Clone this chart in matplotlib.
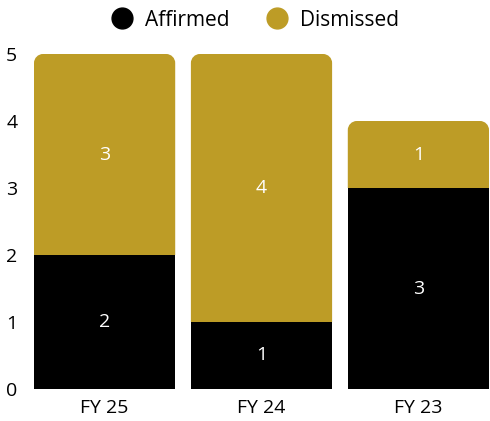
import matplotlib
matplotlib.use("Agg")
import matplotlib.pyplot as plt
from matplotlib.path import Path
from matplotlib.patches import PathPatch
from matplotlib.lines import Line2D

categories = ["FY 25", "FY 24", "FY 23"]
affirmed = [2, 1, 3]
dismissed = [3, 4, 1]
yticks = [0, 1, 2, 3, 4, 5]

BLACK = "#000000"
GOLD = "#BD9C26"
plt.rcParams['font.family'] = ['Open Sans', 'DejaVu Sans']

fig = plt.figure(figsize=(4.9, 4.21), dpi=100)
ax = fig.add_axes([34/490, (421-389)/421, (489-34)/490, (389-54)/421])
ax.set_xlim(-0.45, 2.45)
ax.set_ylim(0, 5)

x = list(range(len(categories)))
width = 0.9

bars_a = ax.bar(x, affirmed, width=width, color=BLACK, zorder=2)
bars_d = ax.bar(x, dismissed, width=width, bottom=affirmed, color=GOLD, zorder=2)

# replace top segments with rounded-top shapes
fig.canvas.draw()
r_px = 9
inv = ax.transData.inverted()
p0 = inv.transform((0, 0))
p1 = inv.transform((r_px, r_px))
rx, ry = p1[0]-p0[0], p1[1]-p0[1]
k = 0.5523
for rect in bars_d.patches:
    x0, y0 = rect.get_x(), rect.get_y()
    w, h = rect.get_width(), rect.get_height()
    x1, y1 = x0 + w, y0 + h
    verts = [(x0, y0), (x0, y1 - ry),
             (x0, y1 - ry + k*ry), (x0 + rx - k*rx, y1), (x0 + rx, y1),
             (x1 - rx, y1),
             (x1 - rx + k*rx, y1), (x1, y1 - ry + k*ry), (x1, y1 - ry),
             (x1, y0), (x0, y0)]
    codes = [Path.MOVETO, Path.LINETO,
             Path.CURVE4, Path.CURVE4, Path.CURVE4,
             Path.LINETO,
             Path.CURVE4, Path.CURVE4, Path.CURVE4,
             Path.LINETO, Path.CLOSEPOLY]
    ax.add_patch(PathPatch(Path(verts, codes), facecolor=rect.get_facecolor(),
                           edgecolor='none', zorder=2))
    rect.set_visible(False)

for bc in (bars_a, bars_d):
    ax.bar_label(bc, label_type='center', color='white', fontsize=14)

ax.set_xticks(x)
ax.set_xticklabels(categories, fontsize=14)
ax.set_yticks(yticks)
ax.set_yticklabels([str(t) for t in yticks], fontsize=14, ha='left')
ax.tick_params(axis='both', length=0)
ax.tick_params(axis='y', pad=20)
ax.tick_params(axis='x', pad=7)
for s in ax.spines.values():
    s.set_visible(False)

handles = [Line2D([], [], marker='o', linestyle='none', markersize=15,
                  markerfacecolor=c, markeredgecolor=c) for c in (BLACK, GOLD)]
fig.legend(handles, ["Affirmed", "Dismissed"], loc='center', ncol=2,
           bbox_to_anchor=(0.51, 1 - 20/421), frameon=False, fontsize=15,
           handletextpad=0.1, columnspacing=1.3)

fig.savefig("out.png", dpi=100)
